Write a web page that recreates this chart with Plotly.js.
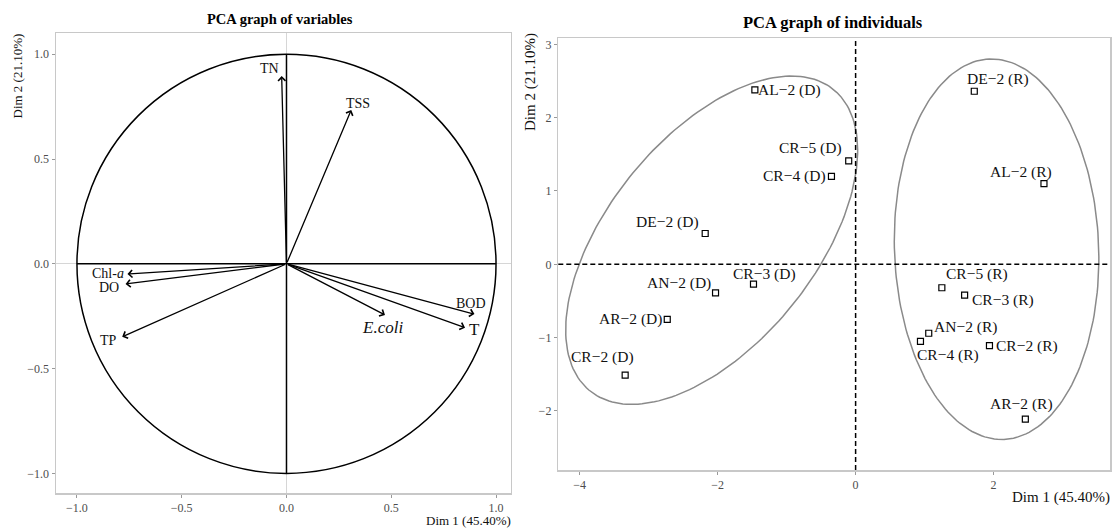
<!DOCTYPE html>
<html>
<head>
<meta charset="utf-8">
<script src="https://cdn.plot.ly/plotly-3.0.1.min.js"></script>
<style>html,body{margin:0;padding:0;background:#fff;}#chart{width:1114px;height:530px;}</style>
</head>
<body>
<div id="chart"></div>
<script>
// ---- Variables (correlation circle) ----
const varNames  = ['TN', 'TSS', 'Chl-a', 'DO', 'TP', 'E.coli', 'BOD', 'T'];
const varLabels = ['TN', 'TSS', 'Chl-<i>a</i>', 'DO', 'TP', '<i>E.coli</i>', 'BOD', 'T'];
const varDim1   = [-0.023, 0.309, -0.759, -0.768, -0.784, 0.470, 0.897, 0.852];
const varDim2   = [0.896, 0.734, -0.049, -0.096, -0.348, -0.244, -0.240, -0.305];

// ---- Individuals ----
const indNames = ['AL\u22122 (D)', 'CR\u22125 (D)', 'CR\u22124 (D)', 'DE\u22122 (D)', 'CR\u22123 (D)', 'AN\u22122 (D)', 'AR\u22122 (D)', 'CR\u22122 (D)',
                  'DE\u22122 (R)', 'AL\u22122 (R)', 'CR\u22125 (R)', 'CR\u22123 (R)', 'AN\u22122 (R)', 'CR\u22124 (R)', 'CR\u22122 (R)', 'AR\u22122 (R)'];
const indDim1 = [-1.46, -0.10, -0.35, -2.18, -1.48, -2.03, -2.73, -3.34, 1.72, 2.73, 1.25, 1.58, 1.06, 0.94, 1.94, 2.46];
const indDim2 = [2.38, 1.41, 1.20, 0.42, -0.27, -0.39, -0.75, -1.51, 2.36, 1.10, -0.32, -0.42, -0.94, -1.05, -1.11, -2.11];

// ---- Group ellipses (centre, semi-axes, rotation in degrees) ----
const ellCenterX = [-2.086, 2.043];
const ellCenterY = [0.329, 0.206];
const ellSemiA   = [2.711, 2.596];
const ellSemiB   = [1.463, 1.480];
const ellAngle   = [47.95, -87.64];

// ---- Tick labels ----
const varTicks = [-1, -0.5, 0, 0.5, 1];
const indTicksX = [-4, -2, 0, 2];
const indTicksY = [-2, -1, 0, 1, 2, 3];

// ---- Style: label offsets in px (dx, dy up) ----
const varLabelDx = [-12, 7, -19, -17, -14, -2, -3, 9];
const varLabelDy = [8, 7, 1, -4, -4, -13, 11, -2];
const varLabelSize = [14, 14, 14, 14, 14, 17, 14, 17];
const indLabelDx = [35, -38, -37, -38, 11, -37, -37, -23, 24, -23, 35, 38, 37, 28, 38, -4];
const indLabelDy = [0, 13, 0, 12, 10, 10, 0, 18, 12, 12, 14, -5, 6, -14, 0, 15];

const FONT = 'Liberation Serif, Times New Roman, serif';

function ellipsePts(i) {
  const xs = [], ys = [];
  const th = ellAngle[i] * Math.PI / 180;
  const n = 200;
  for (let k = 0; k <= n; k++) {
    const t = 2 * Math.PI * k / n;
    xs.push(ellCenterX[i] + ellSemiA[i] * Math.cos(th) * Math.cos(t) - ellSemiB[i] * Math.sin(th) * Math.sin(t));
    ys.push(ellCenterY[i] + ellSemiA[i] * Math.sin(th) * Math.cos(t) + ellSemiB[i] * Math.cos(th) * Math.sin(t));
  }
  return {xs, ys};
}

const traces = [];
for (let i = 0; i < ellCenterX.length; i++) {
  const p = ellipsePts(i);
  traces.push({type: 'scatter', mode: 'lines', x: p.xs, y: p.ys, xaxis: 'x2', yaxis: 'y2',
    line: {color: '#8a8a8a', width: 1.5}, hoverinfo: 'skip', showlegend: false});
}
traces.push({type: 'scatter', mode: 'markers', x: indDim1, y: indDim2, xaxis: 'x2', yaxis: 'y2',
  marker: {symbol: 'square-open', size: 6, color: '#000', line: {width: 1.2, color: '#000'}},
  text: indNames, showlegend: false});

const annotations = [];
for (let i = 0; i < varNames.length; i++) {
  annotations.push({x: varDim1[i], y: varDim2[i], xref: 'x', yref: 'y', ax: 0, ay: 0, axref: 'x', ayref: 'y',
    text: '', showarrow: true, arrowhead: 4, arrowsize: 1.1, arrowwidth: 1.3, arrowcolor: '#000'});
  annotations.push({x: varDim1[i], y: varDim2[i], xref: 'x', yref: 'y', text: varLabels[i], showarrow: false,
    xshift: varLabelDx[i], yshift: varLabelDy[i], xanchor: 'center', yanchor: 'middle',
    font: {family: FONT, size: varLabelSize[i], color: '#111'}});
}
for (let i = 0; i < indNames.length; i++) {
  annotations.push({x: indDim1[i], y: indDim2[i], xref: 'x2', yref: 'y2', text: indNames[i], showarrow: false,
    xshift: indLabelDx[i], yshift: indLabelDy[i], xanchor: 'center', yanchor: 'middle',
    font: {family: FONT, size: 15.5, color: '#111'}});
}
annotations.push({text: '<b>PCA graph of variables</b>', xref: 'paper', yref: 'paper', x: 280 / 1114, y: 1 - 19 / 530,
  xanchor: 'center', yanchor: 'middle', showarrow: false, font: {family: FONT, size: 14.5, color: '#000'}});
annotations.push({text: '<b>PCA graph of individuals</b>', xref: 'paper', yref: 'paper', x: 833 / 1114, y: 1 - 22.7 / 530,
  xanchor: 'center', yanchor: 'middle', showarrow: false, font: {family: FONT, size: 16.5, color: '#000'}});
annotations.push({text: 'Dim 1 (45.40%)', xref: 'paper', yref: 'paper', x: 513 / 1114, y: 1 - 520.7 / 530,
  xanchor: 'right', yanchor: 'middle', showarrow: false, font: {family: FONT, size: 13, color: '#111'}});
annotations.push({text: 'Dim 2 (21.10%)', xref: 'paper', yref: 'paper', x: 17.3 / 1114, y: 1 - 76.2 / 530,
  xanchor: 'center', yanchor: 'middle', textangle: -90, showarrow: false, font: {family: FONT, size: 13, color: '#111'}});
annotations.push({text: 'Dim 1 (45.40%)', xref: 'paper', yref: 'paper', x: 1112 / 1114, y: 1 - 497.7 / 530,
  xanchor: 'right', yanchor: 'middle', showarrow: false, font: {family: FONT, size: 15, color: '#111'}});
annotations.push({text: 'Dim 2 (21.10%)', xref: 'paper', yref: 'paper', x: 530.3 / 1114, y: 1 - 81.7 / 530,
  xanchor: 'center', yanchor: 'middle', textangle: -90, showarrow: false, font: {family: FONT, size: 15, color: '#111'}});

const axBase = {showgrid: false, showline: true, mirror: true, linecolor: '#c8c8c8', linewidth: 1.5,
  ticks: 'outside', ticklen: 3, tickcolor: '#999', tickwidth: 1,
  tickfont: {family: FONT, size: 12, color: '#4d4d4d'}, fixedrange: true};

const shapes = [
  {type: 'circle', xref: 'x', yref: 'y', x0: -1, y0: -1, x1: 1, y1: 1, line: {color: '#000', width: 1.5}},
  {type: 'line', xref: 'x', yref: 'y', x0: -1, x1: 1, y0: 0, y1: 0, line: {color: '#000', width: 1.5}},
  {type: 'line', xref: 'x', yref: 'y', x0: 0, x1: 0, y0: -1, y1: 1, line: {color: '#000', width: 1.5}},
  {type: 'line', xref: 'x2', yref: 'y2 domain', x0: 0, x1: 0, y0: 0, y1: 1, line: {color: '#000', width: 1.5, dash: '5px,3px'}},
  {type: 'line', xref: 'x2 domain', yref: 'y2', x0: 0, x1: 1, y0: 0, y1: 0, line: {color: '#000', width: 1.5, dash: '5px,3px'}}
];

const layout = {
  width: 1114, height: 530, margin: {l: 0, r: 0, t: 0, b: 0},
  paper_bgcolor: '#fff', plot_bgcolor: '#fff', showlegend: false,
  xaxis: Object.assign({}, axBase, {domain: [56 / 1114, 510.7 / 1114], range: [-1.1, 1.07], anchor: 'y',
    tickvals: varTicks, tickformat: '.1f', zeroline: true, zerolinecolor: '#d6d6d6', zerolinewidth: 1}),
  yaxis: Object.assign({}, axBase, {domain: [1 - 493.3 / 530, 1 - 33.3 / 530], range: [-1.095, 1.1], anchor: 'x',
    tickvals: varTicks, tickformat: '.1f', zeroline: true, zerolinecolor: '#d6d6d6', zerolinewidth: 1}),
  xaxis2: Object.assign({}, axBase, {domain: [558.3 / 1114, 1110 / 1114], range: [-4.309, 3.687], anchor: 'y2',
    tickvals: indTicksX, zeroline: false}),
  yaxis2: Object.assign({}, axBase, {domain: [1 - 470 / 530, 1 - 38.3 / 530], range: [-2.805, 3.082], anchor: 'x2',
    tickvals: indTicksY, zeroline: false}),
  shapes: shapes,
  annotations: annotations
};

Plotly.newPlot('chart', traces, layout, {displayModeBar: false, staticPlot: true});
</script>
</body>
</html>
